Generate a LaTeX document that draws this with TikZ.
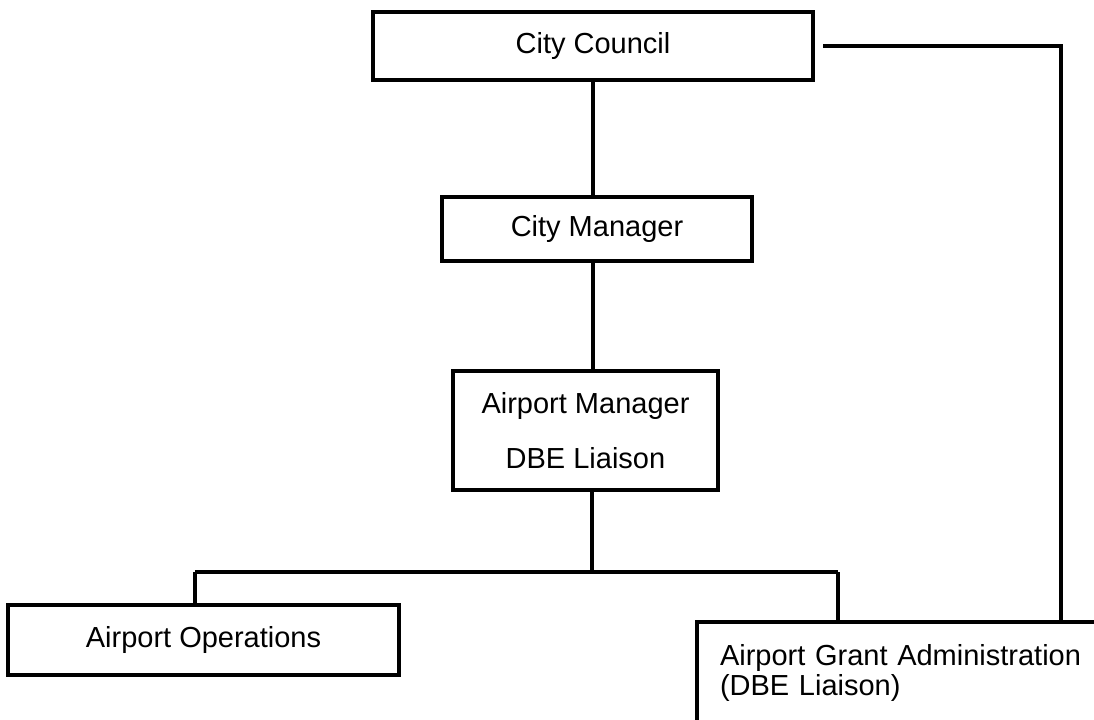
\documentclass[tikz,border=0pt]{standalone}
\usepackage{fontspec}
\setmainfont{Liberation Sans}
\usetikzlibrary{positioning}

\begin{document}
\begin{tikzpicture}[
			x=0.5pt, y=-0.5pt,
			line width=1.6pt,
			block/.style={draw, line width=2pt, inner sep=0pt, font=\fontsize{14.5}{17}\selectfont},
			openblock/.style={draw, line width=2pt, anchor=north west, align=left, text width=220pt, inner xsep=11.5pt, inner ysep=11pt, font=\fontsize{14.5}{15}\selectfont},
		]
			\useasboundingbox (0,0) rectangle (1094,719);
			\clip (0,0) rectangle (1094,719);

			\node[block, minimum width=220pt, minimum height=34pt] (council) at (593,46) {City Council};
			\node[block, minimum width=155pt, minimum height=32pt, below=56.5pt of council, xshift=2pt] (manager) {City Manager};
			\node[block, minimum width=132.5pt, minimum height=59.5pt, align=center, font=\fontsize{14.5}{27.5}\selectfont, below=53pt of manager, xshift=-5.75pt] (airportmgr) {Airport Manager\\DBE Liaison};

			\node[block, minimum width=195.5pt, minimum height=35pt] (operations) at (203.5,640) {Airport Operations};
			\node[openblock] (grant) at (695,620) {Airport Grant Administration\\(DBE Liaison)};

			\coordinate (branch) at (592,572);
			\coordinate (opsjoin) at (195,572);
			\coordinate (grantjoin) at (838,572);
			\coordinate (feed) at (1061,46);

			\draw (council.south) -- (council.south |- manager.north);
			\draw (manager.south -| council.south) -- (council.south |- airportmgr.north);
			\draw (airportmgr.south -| branch) -- (branch);

			\draw (opsjoin) -- (grantjoin);
			\draw (opsjoin) -- (opsjoin |- operations.north);
			\draw (grantjoin) -- (grantjoin |- grant.north);

			\draw ([xshift=4pt]council.east) -- (feed) -- (feed |- grant.north);
		\end{tikzpicture}
\end{document}
